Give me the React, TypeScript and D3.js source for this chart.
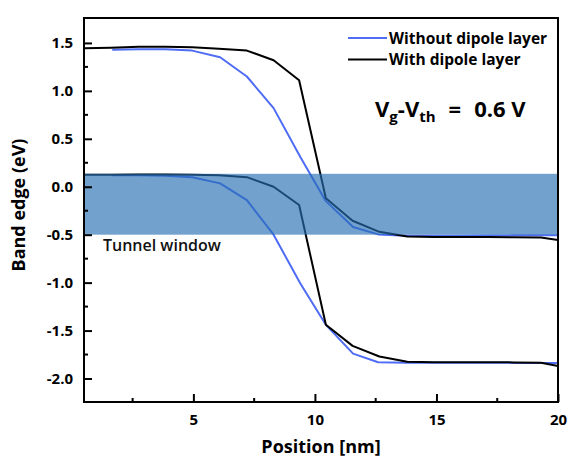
import React, { useEffect, useRef } from "react";
import * as d3 from "d3";

// position grid (nm) and band edges (eV)
const posWith = [0.5, 1.6, 2.75, 3.85, 4.95, 6.05, 7.2, 8.3, 9.35, 10.45, 11.55, 12.65, 13.8, 14.9, 16.0, 17.1, 18.2, 19.3, 20];
const cbWith = [1.445, 1.45, 1.46, 1.46, 1.455, 1.44, 1.42, 1.32, 1.11, -0.12, -0.355, -0.47, -0.52, -0.525, -0.525, -0.525, -0.527, -0.53, -0.556];
const vbWith = [0.125, 0.125, 0.127, 0.127, 0.125, 0.12, 0.1, 0.0, -0.19, -1.44, -1.66, -1.77, -1.825, -1.83, -1.83, -1.83, -1.832, -1.835, -1.87];

const posWithout = [1.66, 2.75, 3.85, 4.95, 6.1, 7.2, 8.3, 9.4, 10.45, 11.57, 12.6, 13.75, 14.9, 16.0, 17.1, 18.2, 19.3, 20];
const cbWithout = [1.43, 1.435, 1.435, 1.42, 1.35, 1.15, 0.82, 0.31, -0.15, -0.42, -0.497, -0.51, -0.51, -0.51, -0.508, -0.507, -0.505, -0.505];
const vbWithout = [0.12, 0.12, 0.115, 0.1, 0.035, -0.14, -0.5, -1.01, -1.44, -1.74, -1.83, -1.835, -1.835, -1.836, -1.836, -1.837, -1.837, -1.837];

const tunnelWindow = [-0.5, 0.135];

const xTicks = [5, 10, 15, 20];
const xMinor = [2.5, 7.5, 12.5, 17.5];
const yTicks = [-2.0, -1.5, -1.0, -0.5, 0.0, 0.5, 1.0, 1.5];
const yMinor = [-1.75, -1.25, -0.75, -0.25, 0.25, 0.75, 1.25];

const legendItems = [
  { label: "Without dipole layer", color: "#4f6cf5" },
  { label: "With dipole layer", color: "#000000" },
];

const W = 568;
const H = 459;
const margin = { top: 18, right: 10, bottom: 57, left: 84 };
const font = "'Open Sans', Arial, sans-serif";

export default function App() {
  const ref = useRef<SVGSVGElement>(null);

  useEffect(() => {
    const svg = d3.select(ref.current);
    svg.selectAll("*").remove();

    const x = d3.scaleLinear().domain([0.5, 20]).range([margin.left, W - margin.right]);
    const y = d3.scaleLinear().domain([-2.245, 1.76]).range([H - margin.bottom, margin.top]);

    const line = d3
      .line<[number, number]>()
      .x((d) => x(d[0]))
      .y((d) => y(d[1]));

    const series = [
      { pos: posWithout, vals: cbWithout, color: legendItems[0].color },
      { pos: posWithout, vals: vbWithout, color: legendItems[0].color },
      { pos: posWith, vals: cbWith, color: legendItems[1].color },
      { pos: posWith, vals: vbWith, color: legendItems[1].color },
    ];

    svg
      .append("g")
      .selectAll("path")
      .data(series)
      .join("path")
      .attr("d", (s) => line(s.pos.map((p, i) => [p, s.vals[i]] as [number, number])))
      .attr("fill", "none")
      .attr("stroke", (s) => s.color)
      .attr("stroke-width", 2)
      .attr("stroke-linejoin", "round");

    // tunnel window band, drawn over the lines
    svg
      .append("rect")
      .attr("x", x(0.5))
      .attr("width", x(20) - x(0.5))
      .attr("y", y(tunnelWindow[1]))
      .attr("height", y(tunnelWindow[0]) - y(tunnelWindow[1]))
      .attr("fill", "#266eb3")
      .attr("fill-opacity", 0.65);

    svg
      .append("text")
      .attr("x", 103)
      .attr("y", y(-0.5) + 16)
      .attr("font-family", font)
      .attr("font-weight", 600)
      .attr("font-size", 16)
      .attr("fill", "#111")
      .text("Tunnel window");

    // frame
    svg
      .append("rect")
      .attr("x", margin.left)
      .attr("y", margin.top)
      .attr("width", W - margin.right - margin.left)
      .attr("height", H - margin.bottom - margin.top)
      .attr("fill", "none")
      .attr("stroke", "#000")
      .attr("stroke-width", 2);

    const xAxis = d3
      .axisBottom(x)
      .tickValues(xTicks)
      .tickSizeInner(-8)
      .tickSizeOuter(0)
      .tickPadding(12)
      .tickFormat(d3.format("d"));
    const gx = svg.append("g").attr("transform", `translate(0,${H - margin.bottom})`).call(xAxis);
    gx.append("g")
      .selectAll("line")
      .data(xMinor)
      .join("line")
      .attr("x1", (d) => x(d))
      .attr("x2", (d) => x(d))
      .attr("y1", 0)
      .attr("y2", -4)
      .attr("stroke", "#000")
      .attr("stroke-width", 2);

    const yAxis = d3
      .axisLeft(y)
      .tickValues(yTicks)
      .tickSizeInner(-8)
      .tickSizeOuter(0)
      .tickPadding(11)
      .tickFormat((d) => (d as number).toFixed(1));
    const gy = svg.append("g").attr("transform", `translate(${margin.left},0)`).call(yAxis);
    gy.append("g")
      .selectAll("line")
      .data(yMinor)
      .join("line")
      .attr("y1", (d) => y(d))
      .attr("y2", (d) => y(d))
      .attr("x1", 0)
      .attr("x2", 4)
      .attr("stroke", "#000")
      .attr("stroke-width", 2);

    [gx, gy].forEach((g) => {
      g.select(".domain").remove();
      g.selectAll(".tick line").attr("stroke-width", 2);
      g.selectAll(".tick text")
        .attr("font-family", font)
        .attr("font-weight", "bold")
        .attr("font-size", 15)
        .attr("fill", "#000");
    });

    svg
      .append("text")
      .attr("x", (margin.left + W - margin.right) / 2)
      .attr("y", 453)
      .attr("text-anchor", "middle")
      .attr("font-family", font)
      .attr("font-weight", "bold")
      .attr("font-size", 18)
      .text("Position [nm]");

    svg
      .append("text")
      .attr("transform", `translate(25,205) rotate(-90)`)
      .attr("text-anchor", "middle")
      .attr("font-family", font)
      .attr("font-weight", "bold")
      .attr("font-size", 18)
      .text("Band edge (eV)");

    // legend
    const lg = svg.append("g");
    legendItems.forEach((item, i) => {
      const ly = 38 + i * 21.5;
      lg.append("line")
        .attr("x1", 348)
        .attr("x2", 387)
        .attr("y1", ly)
        .attr("y2", ly)
        .attr("stroke", item.color)
        .attr("stroke-width", 2);
      lg.append("text")
        .attr("x", 389)
        .attr("y", ly + 5.5)
        .attr("font-family", font)
        .attr("font-weight", "bold")
        .attr("font-size", 15.5)
        .text(item.label);
    });

    // annotation
    const ann = svg
      .append("text")
      .attr("x", 375)
      .attr("y", 117)
      .attr("font-family", font)
      .attr("font-weight", "bold")
      .attr("font-size", 22);
    ann.append("tspan").text("V");
    ann.append("tspan").attr("font-size", 15).attr("dy", 5).text("g");
    ann.append("tspan").attr("dy", -5).text("-V");
    ann.append("tspan").attr("font-size", 15).attr("dy", 5).text("th");
    ann.append("tspan").attr("dy", -5).attr("dx", 13).text("=");
    ann.append("tspan").attr("dx", 13).text("0.6 V");
  }, []);

  return (
    <svg
      ref={ref}
      width={W}
      height={H}
      style={{ position: "absolute", left: 0, top: 0, background: "#fff" }}
    />
  );
}
